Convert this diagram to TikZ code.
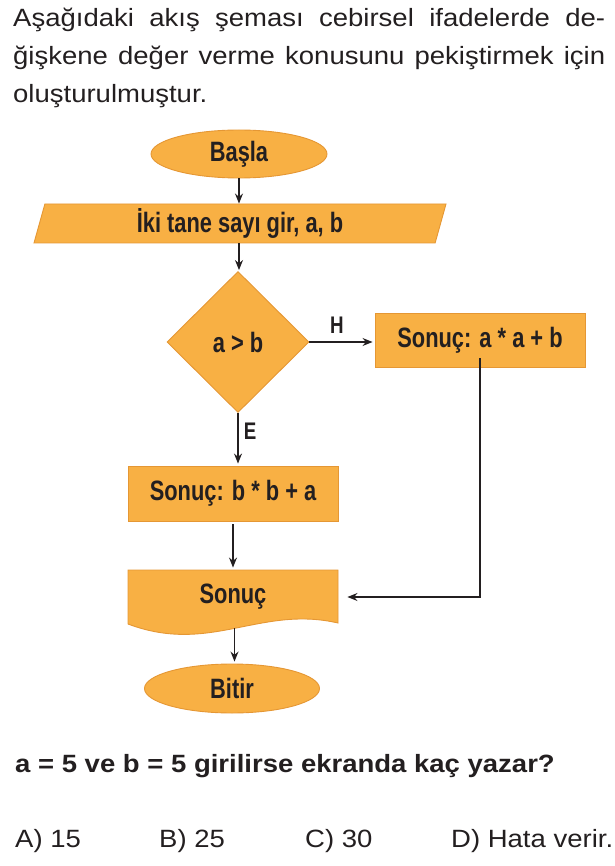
\documentclass[tikz,border=0pt]{standalone}
\usepackage{fontspec}
\setmainfont{Liberation Sans}
\newfontfamily\metinfont[FakeStretch=1.1]{Liberation Sans}
\newfontfamily\akisfont[FakeStretch=0.78]{Liberation Sans}
\usetikzlibrary{shapes.geometric,arrows.meta}
\definecolor{turuncu}{RGB}{248,176,68}
\definecolor{kenar}{RGB}{229,151,52}
\definecolor{yazi}{RGB}{35,31,32}
\begin{document}
\begin{tikzpicture}[x=1pt,y=-1pt,
		kutu/.style={draw=kenar,fill=turuncu,line width=0.9pt,inner sep=0pt,text=yazi,font=\akisfont\bfseries\fontsize{28}{32}\selectfont},
		etiket/.style={inner sep=0pt,text=yazi,font=\akisfont\bfseries\fontsize{24}{28}\selectfont},
		ok/.style={draw=yazi,line width=1.2pt,-{Stealth[length=10pt,width=8pt]}},
		metin/.style={anchor=base west,inner sep=0pt,text=yazi,font=\metinfont\fontsize{25}{30}\selectfont}]
	\useasboundingbox (0,0) rectangle (614,866);

	\node[metin] (satir1) at (13,27) {\makebox[592pt][s]{Aşağıdaki akış şeması cebirsel ifadelerde de-}};
	\node[metin] (satir2) at (13,65) {\makebox[592pt][s]{ğişkene değer verme konusunu pekiştirmek için}};
	\node[metin] (satir3) at (13,103) {oluşturulmuştur.};

	\node[kutu,ellipse,minimum width=176pt,minimum height=48pt] (basla) at (239,154) {Başla};
	\node[kutu,trapezium,trapezium left angle=70,trapezium right angle=110,trapezium stretches body,minimum width=412pt,minimum height=39pt] (giris) at (240,223.5) {İki tane sayı gir, a, b};
	\node[kutu,diamond,minimum width=142pt,minimum height=141pt] (karar) at (238,342) {a > b};
	\node[kutu,minimum width=210pt,minimum height=54pt] (kutuA) at (480,340) {Sonuç: a * a + b};
	\node[kutu,minimum width=210pt,minimum height=55pt] (kutuB) at (233,493.5) {Sonuç: b * b + a};

	\draw[kutu] (128,570) -- (338,570) -- (338,623) .. controls (260,605) and (210,655) .. (128,624) -- cycle;
	\node[kutu,draw=none,fill=none,minimum width=210pt,minimum height=54pt] (sonuc) at (233,597) {Sonuç};
	\coordinate (dalga) at (234.5,628.4);

	\node[kutu,ellipse,minimum width=175pt,minimum height=49pt] (bitir) at (232,688.5) {Bitir};

	\node[etiket] (h) at (337,325) {H};
	\node[etiket] (e) at (250,431) {E};

	\draw[ok] (basla.south) -- (basla.south |- giris.north);
	\draw[ok,shorten >=1pt] (giris.south -| basla.south) -- (basla.south |- karar.north);
	\draw[ok,shorten >=2pt] (karar.east) -- (karar.east -| kutuA.west);
	\draw[ok,shorten >=2pt] (karar.south) -- (karar.south |- kutuB.north);
	\draw[ok,shorten <=3pt,shorten >=2pt] (kutuB.south) -- (sonuc.north);
	\draw[ok,shorten >=9pt] ([yshift=9pt]kutuA.south) |- (sonuc.east);
	\draw[ok,shorten >=2pt] (dalga) -- (dalga |- bitir.north);

	\node[metin,font=\metinfont\bfseries\fontsize{25}{30}\selectfont] (soru) at (15,772) {a = 5 ve b = 5 girilirse ekranda kaç yazar?};
	\node[metin] (sikA) at (15,847) {A) 15};
	\node[metin] (sikB) at (159,847) {B) 25};
	\node[metin] (sikC) at (305,847) {C) 30};
	\node[metin] (sikD) at (451,847) {D) Hata verir.};
\end{tikzpicture}
\end{document}
